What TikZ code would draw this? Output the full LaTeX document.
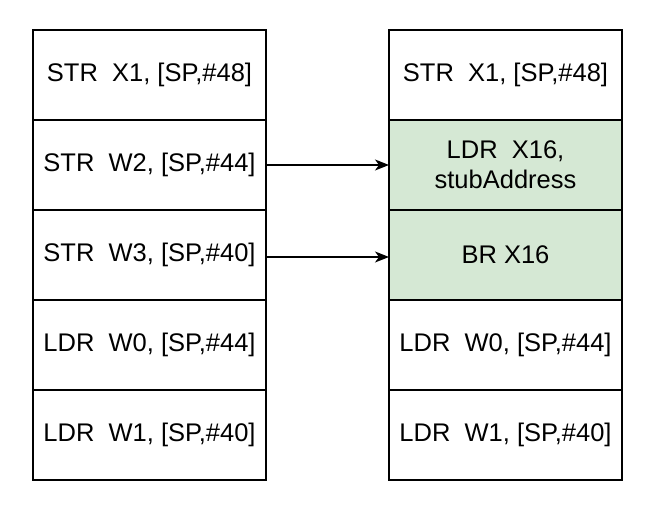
\documentclass[tikz,border=0pt]{standalone}
\usepackage{fontspec}
\setmainfont{Liberation Sans}
\usetikzlibrary{arrows.meta}
\definecolor{greenfill}{HTML}{D5E8D4}
\begin{document}
\begin{tikzpicture}[x=1pt,y=1pt,
  cell/.style={draw=black, line width=1.2pt, minimum width=233pt, minimum height=90pt,
    inner sep=0pt, outer sep=0pt, align=center, font=\fontsize{25.5}{30}\selectfont, anchor=north west},
  hl/.style={fill=greenfill},
  link/.style={draw=black, line width=1.2pt, -{Stealth[length=14pt,width=11pt,inset=4pt]}}]
\useasboundingbox (0,0) rectangle (659,506);
% left column
\node[cell] (l1) at (33,476) {STR~~X1, [SP,\#48]};
\node[cell] (l2) at (33,386) {STR~~W2, [SP,\#44]};
\node[cell] (l3) at (33,296) {STR~~W3, [SP,\#40]};
\node[cell] (l4) at (33,206) {LDR~~W0, [SP,\#44]};
\node[cell] (l5) at (33,116) {LDR~~W1, [SP,\#40]};
% right column
\node[cell] (r1) at (389,476) {STR~~X1, [SP,\#48]};
\node[cell,hl] (r2) at (389,386) {LDR~~X16,\\stubAddress};
\node[cell,hl] (r3) at (389,296) {BR X16};
\node[cell] (r4) at (389,206) {LDR~~W0, [SP,\#44]};
\node[cell] (r5) at (389,116) {LDR~~W1, [SP,\#40]};
% connectors
\draw[link] (l2.east) -- (r2.west);
\draw[link] ([yshift=-2pt]l3.east) -- ([yshift=-2pt]r3.west);
\end{tikzpicture}
\end{document}
